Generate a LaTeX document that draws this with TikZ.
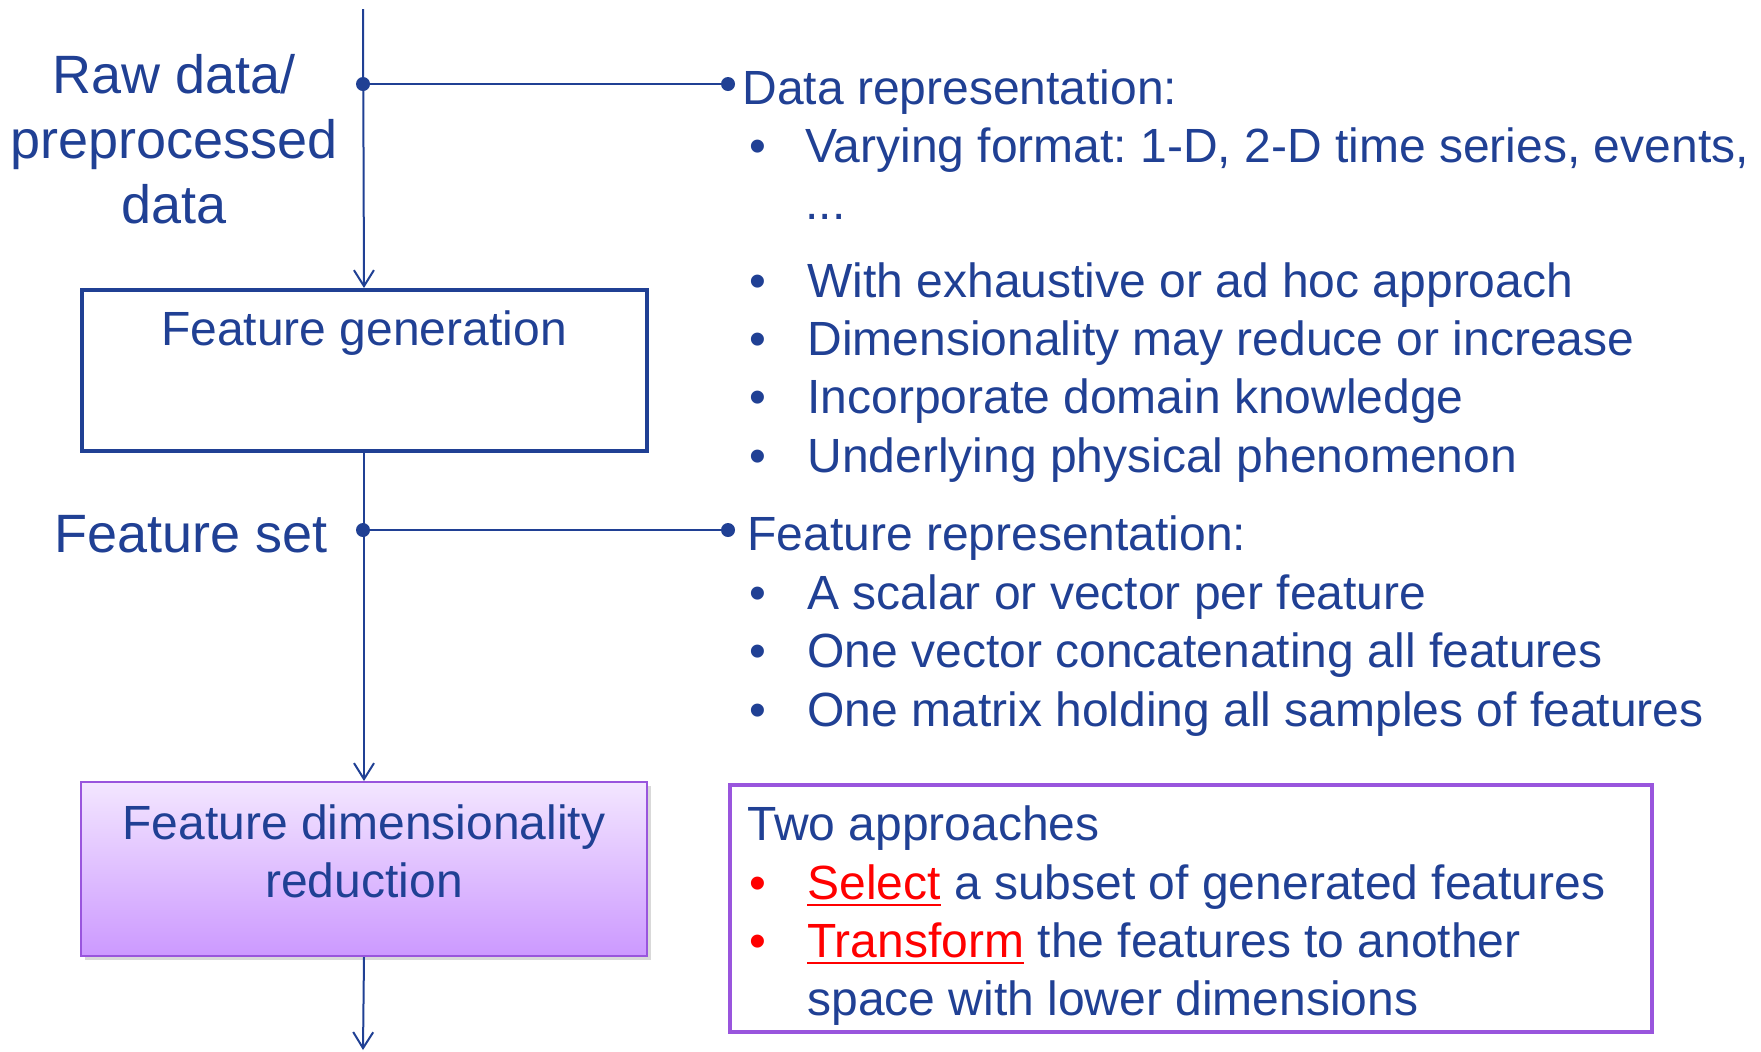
\documentclass[tikz,border=0pt]{standalone}
\usepackage{fontspec}
\setmainfont{Liberation Sans}
\frenchspacing
\usetikzlibrary{arrows.meta,shadows}
\definecolor{mainblue}{RGB}{32,64,148}
\definecolor{boxpurple}{RGB}{153,85,221}
\definecolor{lavtop}{RGB}{243,230,255}
\definecolor{lavbot}{RGB}{204,153,255}
\newcommand\myredul[1]{\textcolor{red}{\setbox0\hbox{#1}\rlap{\rule[-3.5pt]{\wd0}{1pt}}\box0}}
\tikzset{
  flow/.style={draw=mainblue, line width=1pt, -{Straight Barb[length=8pt,width=10pt,line width=1pt]}},
  link/.style={draw=mainblue, line width=1.1pt},
  dotmark/.style={circle, fill=mainblue, inner sep=0pt, minimum size=7pt},
  txt/.style={text=mainblue, inner sep=0pt, font=\fontsize{24pt}{28pt}\selectfont},
  bigtxt/.style={text=mainblue, inner sep=0pt, align=center, font=\fontsize{27pt}{32.5pt}\selectfont},
  bul/.style={txt, anchor=base},
  redbul/.style={txt, text=red, anchor=base},
  itemtxt/.style={txt, anchor=base west},
  genbox/.style={draw=mainblue, line width=2pt, inner sep=0pt},
  dimbox/.style={draw=boxpurple, line width=1pt, inner sep=0pt, top color=lavtop, bottom color=lavbot,
    drop shadow={opacity=0.3, shadow xshift=2pt, shadow yshift=-2pt}},
  notebox/.style={draw=boxpurple, line width=2pt, inner sep=0pt},
}
\begin{document}
\begin{tikzpicture}[x=0.5pt,y=-0.5pt]
\useasboundingbox (0,0) rectangle (1761,1051);
% main flow
\coordinate (top) at (363,9);
\coordinate (bottom) at (363,1050);
\node (gen) [genbox, minimum width=282.5pt, minimum height=80.5pt] at (364,370.5) {};
\node (gentext) [txt, anchor=base] at (364,345) {Feature generation};
\node (dim) [dimbox, minimum width=283pt, minimum height=87pt] at (364,869) {};
\node (dimtext) [txt, anchor=base, align=center, font=\fontsize{24pt}{29pt}\selectfont] at (364,897) {Feature dimensionality\\reduction};
\draw[flow] (top) -- (gen.north);
\draw[flow] (gen.south) -- (dim.north);
\draw[flow] (dim.south) -- (bottom);
% left labels
\node (raw) [bigtxt, anchor=base] at (174,223) {Raw data/\\preprocessed\\data};
\node (fset) [bigtxt, anchor=base] at (191,552) {Feature set};
% connectors to notes
\node (d1) [dotmark] at (363,84) {};
\node (d2) [dotmark] at (728,84) {};
\node (d3) [dotmark] at (363,530) {};
\node (d4) [dotmark] at (728,530) {};
\draw[link] (d1.center) -- (d2.center);
\draw[link] (d3.center) -- (d4.center);
% data representation
\node (drep) [itemtxt] at (742,104) {Data representation:};
\node (b1) [bul] at (758,162) {•};
\node (i1) [itemtxt] at (805,162) {Varying format: 1-D, 2-D time series, events,};
\node (i1b) [itemtxt] at (805,219) {...};
\node (b2) [bul] at (758,297) {•};
\node (i2) [itemtxt] at (807,297) {With exhaustive or ad hoc approach};
\node (b3) [bul] at (758,355) {•};
\node (i3) [itemtxt] at (807,355) {Dimensionality may reduce or increase};
\node (b4) [bul] at (758,413) {•};
\node (i4) [itemtxt] at (807,413) {Incorporate domain knowledge};
\node (b5) [bul] at (758,472) {•};
\node (i5) [itemtxt] at (807,472) {Underlying physical phenomenon};
% feature representation
\node (frep) [itemtxt] at (747,550) {Feature representation:};
\node (b6) [bul] at (758,609) {•};
\node (i6) [itemtxt] at (807,609) {A scalar or vector per feature};
\node (b7) [bul] at (758,667) {•};
\node (i7) [itemtxt] at (807,667) {One vector concatenating all features};
\node (b8) [bul] at (758,726) {•};
\node (i8) [itemtxt] at (807,726) {One matrix holding all samples of features};
% approaches box
\node (note) [notebox, minimum width=461pt, minimum height=123.5pt] at (1191,908.5) {};
\node (two) [itemtxt] at (747,840) {Two approaches};
\node (b9) [redbul] at (758,899) {•};
\node (i9) [itemtxt] at (807,899) {\myredul{Select} a subset of generated features};
\node (b10) [redbul] at (758,957) {•};
\node (i10) [itemtxt] at (807,957) {\myredul{Transform} the features to another};
\node (i10b) [itemtxt] at (807,1015) {space with lower dimensions};
\end{tikzpicture}
\end{document}
